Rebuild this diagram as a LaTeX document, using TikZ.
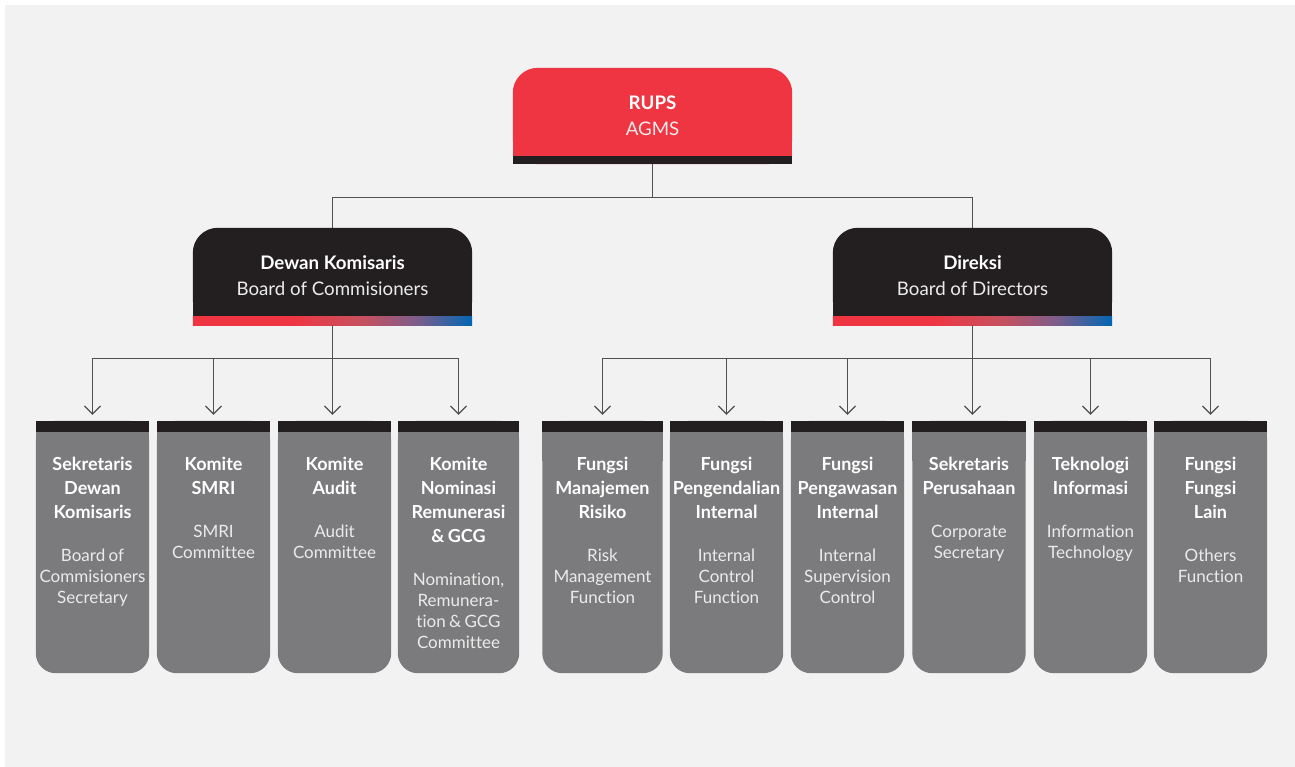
\documentclass[tikz,border=0pt]{standalone}
\usepackage{fontspec}
\setmainfont{Lato}[Ligatures={NoCommon,NoContextual}, Contextuals=NoAlternate]
\usetikzlibrary{arrows.meta,backgrounds,calc}
\definecolor{bgc}{HTML}{F2F2F2}
\definecolor{redc}{HTML}{F03542}
\definecolor{blk}{HTML}{231F20}
\definecolor{boxg}{HTML}{7B7B7D}
\definecolor{linec}{HTML}{505050}
\definecolor{midc}{HTML}{C8505F}
\definecolor{purc}{HTML}{7E5D8A}
\definecolor{bluec}{HTML}{0067B4}
\definecolor{subc}{HTML}{EBEBEB}
\pgfdeclarehorizontalshading{barshade}{100bp}{color(0bp)=(redc); color(42.5bp)=(redc); color(55bp)=(midc); color(65bp)=(purc); color(75bp)=(bluec); color(100bp)=(bluec)}
\newcommand\bt[2]{{\fontsize{18pt}{24pt}\selectfont\bfseries #1\par}\vspace{22pt}{\fontsize{17pt}{21pt}\selectfont\color{subc}#2\par}}
\tikzset{
  topbox/.style={minimum width=279pt, minimum height=96pt, inner sep=0pt},
  midbox/.style={minimum width=279pt, minimum height=97pt, inner sep=0pt},
  lowbox/.style={minimum width=113pt, minimum height=252pt, inner sep=0pt},
  ttl/.style={font=\fontsize{18.7pt}{20pt}\selectfont\bfseries, text=white, inner sep=0pt, anchor=base},
  subt/.style={font=\fontsize{18.7pt}{20pt}\selectfont, text=subc, inner sep=0pt, anchor=base},
  btxt/.style={text width=140pt, align=center, inner sep=0pt, text=white, anchor=base},
  conn/.style={draw=linec, line width=1.2pt},
  arr/.style={conn, -{Straight Barb[length=8pt,width=16pt]}, shorten >=6pt}
}
\begin{document}
\begin{tikzpicture}[x=1pt,y=-1pt]
\useasboundingbox (0,0) rectangle (1295,767);
% boxes
\node[topbox] (rups) at (652.5,116) {};
\node[midbox] (dewan) at (332.5,276.5) {};
\node[midbox] (direksi) at (972.5,276.5) {};
\node[lowbox] (b1) at (92.5,547) {};
\node[lowbox] (b2) at (213.5,547) {};
\node[lowbox] (b3) at (334.5,547) {};
\node[lowbox, minimum width=121pt] (b4) at (458.5,547) {};
\node[lowbox, minimum width=120pt] (b5) at (602.5,547) {};
\node[lowbox] (b6) at (726.5,547) {};
\node[lowbox] (b7) at (847.5,547) {};
\node[lowbox] (b8) at (969,547) {};
\node[lowbox] (b9) at (1090.5,547) {};
\node[lowbox] (b10) at (1210.5,547) {};
% texts
\node[ttl] (rupsT) at ($(rups.north)+(0,42)$) {RUPS};
\node[subt] (rupsS) at ($(rups.north)+(0,68)$) {AGMS};
\node[ttl] (dewanT) at ($(dewan.north)+(0,42)$) {Dewan Komisaris};
\node[subt] (dewanS) at ($(dewan.north)+(0,68)$) {Board of Commisioners};
\node[ttl] (direksiT) at ($(direksi.north)+(0,42)$) {Direksi};
\node[subt] (direksiS) at ($(direksi.north)+(0,68)$) {Board of Directors};
\node[btxt] (b1t) at ($(b1.north)+(0,50)$) {\bt{Sekretaris\\Dewan\\Komisaris}{Board of\\Commisioners\\Secretary}};
\node[btxt] (b2t) at ($(b2.north)+(0,50)$) {\bt{Komite\\SMRI}{SMRI\\Committee}};
\node[btxt] (b3t) at ($(b3.north)+(0,50)$) {\bt{Komite\\Audit}{Audit\\Committee}};
\node[btxt] (b4t) at ($(b4.north)+(0,50)$) {\bt{Komite\\Nominasi\\Remunerasi\\\& GCG}{Nomination,\\Remunera-\\tion \& GCG\\Committee}};
\node[btxt] (b5t) at ($(b5.north)+(0,50)$) {\bt{Fungsi\\Manajemen\\Risiko}{Risk\\Management\\Function}};
\node[btxt] (b6t) at ($(b6.north)+(0,50)$) {\bt{Fungsi\\Pengendalian\\Internal}{Internal\\Control\\Function}};
\node[btxt] (b7t) at ($(b7.north)+(0,50)$) {\bt{Fungsi\\Pengawasan\\Internal}{Internal\\Supervision\\Control}};
\node[btxt] (b8t) at ($(b8.north)+(0,50)$) {\bt{Sekretaris\\Perusahaan}{Corporate\\Secretary}};
\node[btxt] (b9t) at ($(b9.north)+(0,50)$) {\bt{Teknologi\\Informasi}{Information\\Technology}};
\node[btxt] (b10t) at ($(b10.north)+(0,50)$) {\bt{Fungsi\\Fungsi\\Lain}{Others\\Function}};
% shapes
\begin{pgfonlayer}{background}
\fill[bgc] (5,5) rectangle (1295,767);
\fill[redc, rounded corners=25pt] (rups.south west) rectangle (rups.north east);
\fill[redc] ([yshift=40pt]rups.south west) rectangle (rups.south east);
\fill[blk] ([yshift=8pt]rups.south west) rectangle (rups.south east);
\foreach \n in {dewan,direksi}{
  \fill[blk, rounded corners=25pt] (\n.south west) rectangle (\n.north east);
  \fill[blk] ([yshift=40pt]\n.south west) rectangle (\n.south east);
  \shade[shading=barshade] ([yshift=9pt]\n.south west) rectangle (\n.south east);
}
\foreach \n in {b1,b2,b3,b4,b5,b6,b7,b8,b9,b10}{
  \fill[boxg, rounded corners=20pt] (\n.south west) rectangle (\n.north east);
  \fill[boxg] (\n.north west) rectangle ([yshift=-40pt]\n.north east);
  \fill[blk] (\n.north west) rectangle ([yshift=-11pt]\n.north east);
}
\end{pgfonlayer}
% connectors
\coordinate (j0) at ($(rups.south)+(0,33)$);
\draw[conn] (rups.south) -- (j0) -| (dewan.north);
\draw[conn] (j0) -| (direksi.north);
\coordinate (j1) at ($(dewan.south)+(0,33)$);
\draw[conn] (dewan.south) -- (j1);
\foreach \n in {b1,b2,b4}{\draw[arr] (j1) -| (\n.north);}
\draw[arr] (j1) -- (j1 |- b3.north);
\coordinate (j2) at ($(direksi.south)+(0,33)$);
\draw[conn] (direksi.south) -- (j2);
\foreach \n in {b5,b6,b7,b9,b10}{\draw[arr] (j2) -| (\n.north);}
\draw[arr] (j2) -- (j2 |- b8.north);
\end{tikzpicture}
\end{document}
